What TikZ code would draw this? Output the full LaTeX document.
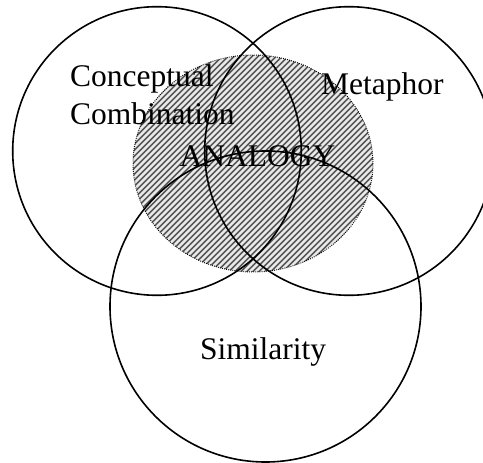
\documentclass[tikz,border=0pt]{standalone}
\usepackage{fontspec}
\setmainfont{Liberation Serif}
\begin{document}
\begin{tikzpicture}[x=1pt,y=-1pt,
  ring/.style={draw=black,line width=1.6pt},
  lbl/.style={anchor=base west,inner sep=0pt,font=\fontsize{31.5}{36}\selectfont},
  hatchline/.style={draw=black!65,line width=1.7pt}]
\useasboundingbox (0,0) rectangle (483,463);
% hatched ellipse (ANALOGY)
\begin{scope}
  \clip (253,163.5) ellipse [x radius=120, y radius=108.5];
  \fill[black!8] (253,163.5) ellipse [x radius=120, y radius=108.5];
  \foreach \k in {-60,...,60} {
    \draw[hatchline] (253+6*\k-150,163.5+150) -- (253+6*\k+150,163.5-150);
  }
\end{scope}
\draw[black,line width=1pt,dash pattern=on 0.8pt off 1.3pt] (253,163.5) ellipse [x radius=120, y radius=108.5];
% circles
\begin{scope}
  \clip (0,0) rectangle (483,463);
  \draw[ring] (157,151) circle [radius=144.3];
  \draw[ring] (349,151) circle [radius=144.3];
  \draw[ring] (265.5,306.5) circle [radius=155.5];
\end{scope}
% labels
\node[lbl] (cc1) at (70,86.7) {Conceptual};
\node[lbl] (cc2) at (70,124) {Combination};
\node[lbl] (met) at (321,94.5) {Metaphor};
\node[lbl] (ana) at (179.5,166.7) {ANALOGY};
\node[lbl] (sim) at (200,359) {Similarity};
\end{tikzpicture}
\end{document}
